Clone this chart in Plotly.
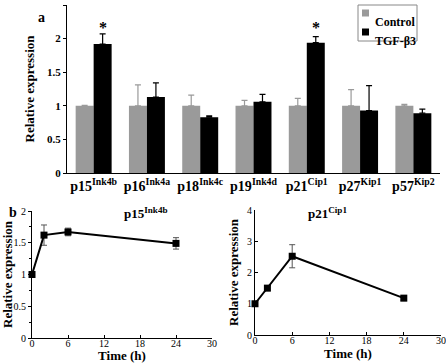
import plotly.graph_objects as go

# ---------------- data ----------------
genes = ["p15<sup>Ink4b</sup>", "p16<sup>Ink4a</sup>", "p18<sup>Ink4c</sup>", "p19<sup>Ink4d</sup>",
         "p21<sup>Cip1</sup>", "p27<sup>Kip1</sup>", "p57<sup>Kip2</sup>"]
control_vals = [1.0, 1.0, 1.0, 1.0, 1.0, 1.0, 1.0]
control_err = [0.005, 0.31, 0.16, 0.08, 0.11, 0.24, 0.02]
tgf_vals = [1.92, 1.13, 0.83, 1.06, 1.94, 0.93, 0.89]
tgf_err = [0.15, 0.21, 0.02, 0.11, 0.09, 0.37, 0.06]
signif = [0, 4]  # indices marked with *

time_h = [0, 2, 6, 24]
p15_vals = [1.0, 1.62, 1.67, 1.49]
p15_err = [0.01, 0.16, 0.06, 0.09]
p21_vals = [1.0, 1.50, 2.52, 1.18]
p21_err = [0.02, 0.08, 0.37, 0.08]

W, H = 446, 363
FAM = "Liberation Serif, Times New Roman, DejaVu Serif, serif"
GRAY = "#9a9a9a"


def px(x):
    return x / W


def py(y):
    return 1 - y / H


def f(size, bold=False):
    d = dict(family=FAM, size=size, color="black")
    if bold:
        d["weight"] = "bold"
    return d


fig = go.Figure()

fig.add_trace(go.Bar(
    x=genes, y=control_vals, name="Control", marker=dict(color=GRAY, line=dict(width=0)),
    error_y=dict(type="data", symmetric=False, array=control_err, arrayminus=[0] * 7,
                 color=GRAY, thickness=1.2, width=3),
    xaxis="x", yaxis="y", showlegend=False))
fig.add_trace(go.Bar(
    x=genes, y=tgf_vals, name="TGF-β3", marker=dict(color="#000000", line=dict(width=0)),
    error_y=dict(type="data", symmetric=False, array=tgf_err, arrayminus=[0] * 7,
                 color="#000000", thickness=1.2, width=3),
    xaxis="x", yaxis="y", showlegend=False))

for xa, ya, vals, errs in [("x2", "y2", p15_vals, p15_err), ("x3", "y3", p21_vals, p21_err)]:
    fig.add_trace(go.Scatter(
        x=time_h, y=vals, mode="lines+markers", cliponaxis=False,
        line=dict(color="black", width=2),
        marker=dict(symbol="square", size=7, color="black"),
        error_y=dict(type="data", array=errs, color="#555555", thickness=1, width=3),
        xaxis=xa, yaxis=ya, showlegend=False))

axis_common = dict(showline=True, linecolor="black", linewidth=1, showgrid=False, zeroline=False,
                   tickcolor="black", automargin=False)

fig.update_layout(
    template="none",
    width=W, height=H, margin=dict(l=0, r=0, t=0, b=0, autoexpand=False),
    paper_bgcolor="white", plot_bgcolor="white",
    font=f(12),
    barmode="group", bargap=0.325, bargroupgap=0,
    xaxis=dict(domain=[px(67), px(440)], anchor="y", type="category", range=[-0.5, 6.5],
               ticks="", tickfont=f(14, True), **axis_common),
    yaxis=dict(domain=[py(173), py(5)], anchor="x", range=[0, 2.5], dtick=0.5,
               ticks="outside", ticklen=3, tickfont=f(11, True),
               title=dict(text="Relative expression", font=f(13, True), standoff=9),
               **axis_common),
    xaxis2=dict(domain=[px(32), px(212)], anchor="y2", range=[0, 30], dtick=6,
                ticks="inside", ticklen=3, tickfont=f(10), ticklabelstandoff=-4,
                title=dict(text="Time (h)", font=f(13, True), standoff=0),
                **axis_common),
    yaxis2=dict(domain=[py(338), py(211)], anchor="x2", range=[0, 2], dtick=0.5,
                ticks="outside", ticklen=3, tickfont=f(10),
                minor=dict(dtick=0.25, ticks="outside", ticklen=2, tickcolor="black"),
                title=dict(text="Relative expression", font=f(13, True), standoff=2),
                **axis_common),
    xaxis3=dict(domain=[px(255), px(441)], anchor="y3", range=[0, 30], dtick=6,
                ticks="inside", ticklen=3, tickfont=f(10), ticklabelstandoff=-4,
                title=dict(text="Time (h)", font=f(13, True), standoff=0),
                **axis_common),
    yaxis3=dict(domain=[py(335), py(210)], anchor="x3", range=[0, 4], dtick=1,
                ticks="inside", ticklen=3, tickfont=f(10),
                title=dict(text="Relative expression", font=f(13, True), standoff=5),
                **axis_common),
)

star_y = max(tgf_vals[i] + tgf_err[i] for i in signif)
annotations = []
for i in signif:
    annotations.append(dict(x=i + 0.169, y=star_y, xref="x", yref="y", yshift=-4,
                            text="*", showarrow=False, yanchor="bottom", font=f(16, True)))
annotations += [
    dict(x=px(36), y=py(8), xref="paper", yref="paper", text="a", showarrow=False, font=f(14, True)),
    dict(x=px(7), y=py(212), xref="paper", yref="paper", text="b", showarrow=False, font=f(14, True)),
    dict(x=px(122), y=py(213), xref="paper", yref="paper", text="p15<sup>Ink4b</sup>", showarrow=False,
         font=f(13, True)),
    dict(x=px(349), y=py(213), xref="paper", yref="paper", text="p21<sup>Cip1</sup>", showarrow=False,
         font=f(13, True)),
    dict(x=px(373), y=py(13), xref="paper", yref="paper", text="Control", showarrow=False,
         xanchor="left", font=f(12, True)),
    dict(x=px(373), y=py(32), xref="paper", yref="paper", text="TGF-β3", showarrow=False,
         xanchor="left", font=f(12, True)),
]
fig.update_layout(annotations=annotations)

shapes = [
    dict(type="rect", xref="paper", yref="paper", x0=px(358), x1=px(417), y0=py(41), y1=py(5),
         line=dict(color="#888888", width=1), fillcolor="white", layer="below"),
    dict(type="rect", xref="paper", yref="paper", x0=px(362), x1=px(369), y0=py(16.5), y1=py(9.5),
         line=dict(width=0), fillcolor=GRAY),
    dict(type="rect", xref="paper", yref="paper", x0=px(362), x1=px(369), y0=py(35.5), y1=py(28.5),
         line=dict(width=0), fillcolor="black"),
]
fig.update_layout(shapes=shapes)

fig.write_html("out.html", config={"displayModeBar": False},
               post_script="document.body.style.margin='0';document.body.style.padding='0';")
